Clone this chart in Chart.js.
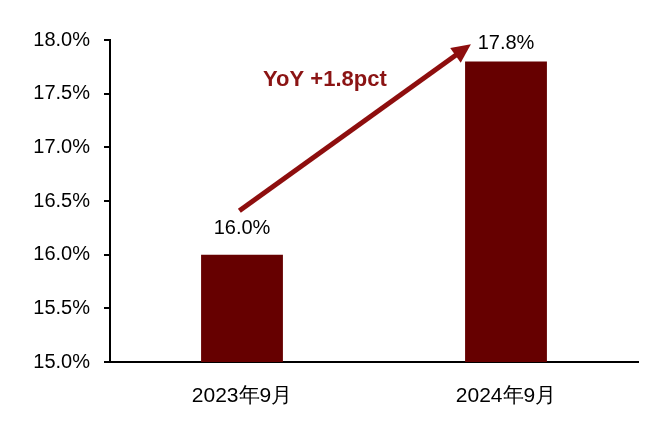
<!DOCTYPE html>
<html>
<head>
<meta charset="utf-8">
<script src="https://cdn.jsdelivr.net/npm/chart.js@4"></script>
<style>
html,body{margin:0;padding:0;background:#fff;}
#wrap{width:660px;height:422px;position:relative;}
</style>
</head>
<body>
<div id="wrap"><canvas id="c"></canvas></div>
<script>
const categories = ["2023年9月", "2024年9月"];
const values = [16.0, 17.8];
const valueLabels = ["16.0%", "17.8%"];
const yTicks = [15.0, 15.5, 16.0, 16.5, 17.0, 17.5, 18.0];
const annotationText = "YoY +1.8pct";
// arrow endpoints in data terms: [category index (fractional), value]
const arrowStart = [-0.01, 16.41];
const arrowEnd = [0.867, 17.96];
const annotationPos = [0.314, 17.63];

const FONT = "'Liberation Sans', Arial, sans-serif";
const labelGaps = [16, 8];

const overlay = {
  id: 'overlay',
  afterDatasetsDraw(chart) {
    const ctx = chart.ctx;
    const xs = chart.scales.x, ys = chart.scales.y;
    const meta = chart.getDatasetMeta(0);
    ctx.save();
    // value labels
    ctx.fillStyle = '#000';
    ctx.font = '20px ' + FONT;
    ctx.textAlign = 'center';
    ctx.textBaseline = 'bottom';
    meta.data.forEach((bar, i) => {
      ctx.fillText(valueLabels[i], bar.x, bar.y - labelGaps[i]);
    });
    // arrow
    const x1 = xs.getPixelForValue(arrowStart[0]), y1 = ys.getPixelForValue(arrowStart[1]);
    const x2 = xs.getPixelForValue(arrowEnd[0]), y2 = ys.getPixelForValue(arrowEnd[1]);
    const ang = Math.atan2(y2 - y1, x2 - x1);
    const headLen = 19, headW = 9;
    const bx = x2 - headLen * Math.cos(ang), by = y2 - headLen * Math.sin(ang);
    ctx.strokeStyle = '#8E0E0E';
    ctx.fillStyle = '#8E0E0E';
    ctx.lineWidth = 5;
    ctx.lineCap = 'butt';
    ctx.beginPath();
    ctx.moveTo(x1, y1);
    ctx.lineTo(bx + 2 * Math.cos(ang), by + 2 * Math.sin(ang));
    ctx.stroke();
    ctx.beginPath();
    ctx.moveTo(x2, y2);
    ctx.lineTo(bx + headW * Math.sin(ang), by - headW * Math.cos(ang));
    ctx.lineTo(bx - headW * Math.sin(ang), by + headW * Math.cos(ang));
    ctx.closePath();
    ctx.fill();
    // annotation text
    ctx.fillStyle = '#8B1414';
    ctx.font = 'bold 22px ' + FONT;
    ctx.textAlign = 'center';
    ctx.textBaseline = 'middle';
    ctx.fillText(annotationText, xs.getPixelForValue(annotationPos[0]), ys.getPixelForValue(annotationPos[1]));
    ctx.restore();
  }
};

new Chart(document.getElementById('c'), {
  type: 'bar',
  data: {
    labels: categories,
    datasets: [{
      data: values,
      backgroundColor: '#660000',
      borderWidth: 0,
      barPercentage: 0.62,
      categoryPercentage: 0.5
    }]
  },
  options: {
    responsive: true,
    maintainAspectRatio: false,
    animation: false,
    devicePixelRatio: 1,
    layout: { padding: { left: 0, right: 22, top: 40, bottom: 0 } },
    plugins: { legend: { display: false }, tooltip: { enabled: false } },
    scales: {
      x: {
        grid: { display: false, drawTicks: false },
        border: { display: true, color: '#000', width: 2 },
        ticks: { color: '#000', font: { size: 21, family: FONT }, padding: 22 },
        afterFit(scale) { scale.height = 60; }
      },
      y: {
        min: 15, max: 18,
        afterBuildTicks(scale) { scale.ticks = yTicks.map(v => ({ value: v })); },
        grid: { display: true, drawOnChartArea: false, drawTicks: true, tickLength: 6, color: '#000', lineWidth: 2 },
        border: { display: true, color: '#000', width: 2 },
        ticks: {
          color: '#000',
          font: { size: 20, family: FONT },
          padding: 14,
          callback: v => v.toFixed(1) + '%'
        },
        afterFit(scale) { scale.width = 110; }
      }
    }
  },
  plugins: [overlay]
});
</script>
</body>
</html>
